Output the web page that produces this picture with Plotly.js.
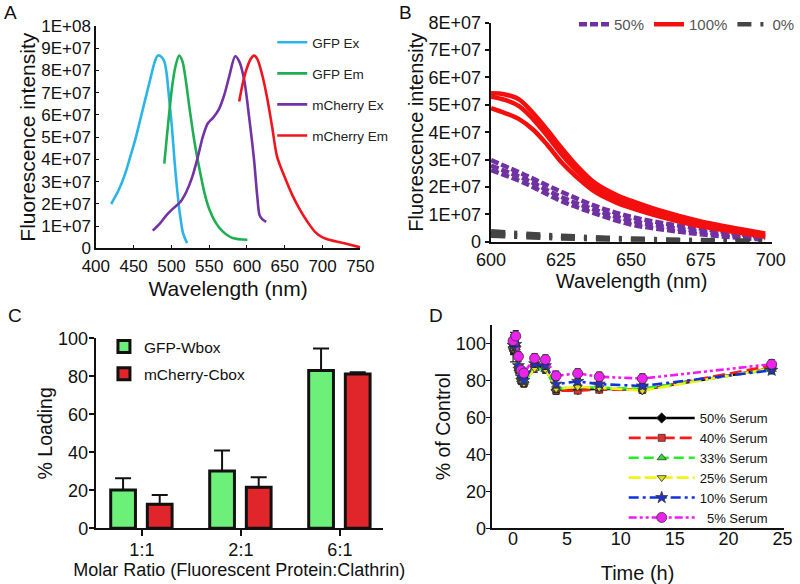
<!DOCTYPE html>
<html><head><meta charset="utf-8">
<script src="https://cdn.plot.ly/plotly-3.0.1.min.js"></script>
<style>html,body{margin:0;padding:0;background:#fff}#chart{width:800px;height:584px}</style>
</head><body><div id="chart"></div>
<script>
// ---------- Panel A : spectra ----------
const aGfpExNm  = [420.3,430.4,439.1,445.7,452.2,458.8,465.3,471.9,477.5,481.8,487,490.6,493.6,497.1,500.6,504,507.6,511.1,515.4,520.7];
const aGfpExVal = [2.0e7,2.64e7,3.39e7,4.14e7,4.89e7,5.79e7,6.69e7,7.59e7,8.34e7,8.67e7,8.61e7,8.41e7,7.89e7,6.69e7,5.49e7,3.99e7,2.64e7,1.59e7,0.69e7,0.24e7];
const aGfpEmNm  = [490.6,493.6,497.1,501,505.4,510.2,514.6,518.9,524.2,530.8,537.3,543.8,550.4,559,567.8,580.9,600.5];
const aGfpEmVal = [3.81e7,4.89e7,6.09e7,7.29e7,8.19e7,8.67e7,8.41e7,7.59e7,6.24e7,4.74e7,3.54e7,2.49e7,1.74e7,1.14e7,0.77e7,0.47e7,0.39e7];
const aMchExNm  = [475.3,484.9,493.6,502.4,512,519.8,527.7,535.1,541.6,548.2,554.7,562.6,570,576.5,584.4,589.7,596.2,602.7,609.3,613.6,616.6,620.1,625.4];
const aMchExVal = [0.8e7,1.13e7,1.5e7,1.8e7,2.1e7,2.55e7,3.23e7,4.14e7,5.03e7,5.63e7,5.86e7,6.24e7,6.91e7,7.74e7,8.64e7,8.41e7,7.59e7,5.94e7,3.99e7,2.34e7,1.5e7,1.32e7,1.2e7];
const aMchEmNm  = [589.7,594,599.2,604.9,609.3,613.6,620.1,626.7,633.2,639.8,650,660,670,680,690,700,710,730,750];
const aMchEmVal = [6.61e7,7.36e7,8.04e7,8.52e7,8.67e7,8.52e7,7.81e7,6.76e7,5.48e7,4.13e7,3.2e7,2.4e7,1.75e7,1.2e7,0.75e7,0.5e7,0.38e7,0.22e7,0.05e7];
const aNames = ['GFP Ex','GFP Em','mCherry Ex','mCherry Em'];
const aYTickVals = [0,1e7,2e7,3e7,4e7,5e7,6e7,7e7,8e7,9e7,1e8];
const aYTickText = ['0','1E+07','2E+07','3E+07','4E+07','5E+07','6E+07','7E+07','8E+07','9E+07','1E+08'];

// ---------- Panel B : quenching ----------
const bRedNm   = [600,605,610,615,620,625,630,637.5,645,650,660,675,690,698];
const bRed1    = [5.42e7,5.38e7,5.2e7,4.7e7,4.1e7,3.45e7,2.85e7,2.12e7,1.7e7,1.5e7,1.15e7,0.74e7,0.45e7,0.3e7];
const bRed2    = [5.3e7,5.18e7,4.95e7,4.48e7,3.88e7,3.22e7,2.65e7,1.96e7,1.56e7,1.37e7,1.04e7,0.65e7,0.38e7,0.24e7];
const bRed3    = [4.88e7,4.7e7,4.48e7,4.1e7,3.55e7,2.92e7,2.42e7,1.8e7,1.42e7,1.24e7,0.93e7,0.56e7,0.31e7,0.18e7];
const bPurNm   = [600,612.5,625,637.5,650,662.5,675,687.5,698];
const bPur1    = [2.98e7,2.42e7,1.83e7,1.3e7,0.91e7,0.66e7,0.48e7,0.3e7,0.15e7];
const bPur2    = [2.78e7,2.27e7,1.64e7,1.15e7,0.77e7,0.54e7,0.37e7,0.22e7,0.1e7];
const bPur3    = [2.62e7,2.12e7,1.49e7,1.02e7,0.63e7,0.43e7,0.27e7,0.15e7,0.07e7];
const bGrayNm  = [600,625,650,675,698];
const bGray1   = [0.38e7,0.22e7,0.12e7,0.06e7,0.03e7];
const bGray2   = [0.3e7,0.17e7,0.09e7,0.04e7,0.02e7];
const bGray3   = [0.22e7,0.12e7,0.06e7,0.03e7,0.01e7];
const bNames = ['50%','100%','0%'];
const bYTickVals = [0,1e7,2e7,3e7,4e7,5e7,6e7,7e7,8e7];
const bYTickText = ['0','1E+07','2E+07','3E+07','4E+07','5E+07','6E+07','7E+07','8E+07'];

// ---------- Panel C : loading ----------
const cRatios = ['1:1','2:1','6:1'];
const cGfp    = [20.2,30.2,83];
const cGfpErr = [6.1,10.7,11.7];
const cMch    = [12.6,21.6,81.2];
const cMchErr = [4.9,5.2,0.9];
const cNames = ['GFP-Wbox','mCherry-Cbox'];

// ---------- Panel D : serum stability ----------
const dTime = [0,0.25,0.5,0.75,1,2,3,4,6,8,12,24];
const d50 = [98,98.5,87,81,79,88,87,75,75,75.5,75,86.5];
const d40 = [97.5,98,86,80,78.5,88,86.5,74.5,74.5,75,75,88];
const d33 = [98,97.5,86.5,80.5,79,86.5,86,75.5,76.5,76,75.5,86];
const d25 = [97,97,86,80,78.5,86.5,86,75.5,76.5,76,74.5,86.5];
const d10 = [99,99.5,88,82,80,89,88,78,79.5,78,77,85.5];
const d5  = [101.5,104,93,85.5,84,92,91.3,82.5,83.8,82,81,88.8];
const d50Err = [8,3,2,2,2,2,2,2,1.5,1.5,1.5,2];
const d40Err = [3,3,2,2,2,2,2,2,1.5,1.5,1.5,2];
const d33Err = [3,3,2,2,2,2,2,2,1.5,1.5,1.5,2];
const d25Err = [3,3,2,2,2,2,2,2,1.5,1.5,1.5,2];
const d10Err = [3,3,2,2,2,2,2,2,1.5,1.5,1.5,2];
const d5Err  = [3,3,2.5,2,2,2.5,2.5,2.5,2.5,2.5,2.5,2.5];
const dNames = ['50% Serum','40% Serum','33% Serum','25% Serum','10% Serum','\u00a0\u00a05% Serum'];

const FONT = 'Arial, "Liberation Sans", Helvetica, sans-serif';
const traces = [];

// A
const aCols = ['#2db4e6','#1fae52','#7433a3','#f0141e'];
[[aGfpExNm,aGfpExVal],[aGfpEmNm,aGfpEmVal],[aMchExNm,aMchExVal],[aMchEmNm,aMchEmVal]].forEach((p,i)=>{
  traces.push({type:'scatter',mode:'lines',x:p[0],y:p[1],name:aNames[i],xaxis:'x',yaxis:'y',
    line:{color:aCols[i],width:2.6,shape:'spline',smoothing:0.8},legend:'legend',legendgroup:'a'+i,hoverinfo:'skip'});
});

// B
const bPurple = '#7032a3', bRed = '#f2100f', bGray = '#454545';
[bPur1,bPur2,bPur3].forEach((v,i)=>traces.push({type:'scatter',mode:'lines',x:bPurNm,y:v,name:bNames[0],xaxis:'x2',yaxis:'y2',
  line:{color:bPurple,width:4.5,dash:'8px,3px',shape:'spline'},legend:'legend2',showlegend:i===0,legendgroup:'b0'}));
[bRed1,bRed2,bRed3].forEach((v,i)=>traces.push({type:'scatter',mode:'lines',x:bRedNm,y:v,name:bNames[1],xaxis:'x2',yaxis:'y2',
  line:{color:bRed,width:4.5,shape:'spline'},legend:'legend2',showlegend:i===0,legendgroup:'b1'}));
[bGray1,bGray2,bGray3].forEach((v,i)=>traces.push({type:'scatter',mode:'lines',x:bGrayNm,y:v,name:bNames[2],xaxis:'x2',yaxis:'y2',
  line:{color:bGray,width:4.5,dash:'14px,9px,3px,9px',shape:'spline'},legend:'legend2',showlegend:i===0,legendgroup:'b2'}));

// C
traces.push({type:'bar',x:cRatios,y:cGfp,name:cNames[0],xaxis:'x3',yaxis:'y3',width:0.25,offset:-0.315,
  marker:{color:'#6cf07a',line:{color:'#111',width:3}},
  error_y:{type:'data',symmetric:false,array:cGfpErr,arrayminus:[0,0,0],color:'#111',thickness:2,width:8},legend:'legend3',legendgroup:'c0'});
traces.push({type:'bar',x:cRatios,y:cMch,name:cNames[1],xaxis:'x3',yaxis:'y3',width:0.25,offset:0.055,
  marker:{color:'#e0262b',line:{color:'#111',width:3}},
  error_y:{type:'data',symmetric:false,array:cMchErr,arrayminus:[0,0,0],color:'#111',thickness:2,width:8},legend:'legend3',legendgroup:'c1'});

// D
const dSeries = [
  [d50,d50Err,'#000000','solid','diamond',8,'#000000'],
  [d40,d40Err,'#ff1a1a','12px,5px','square',7,'#e03030'],
  [d33,d33Err,'#22ee22','10px,5px','triangle-up',8,'#33dd33'],
  [d25,d25Err,'#f2f21a','12px,4px','triangle-down',8,'#dede22'],
  [d10,d10Err,'#1030e0','10px,4px,3px,4px','star',9,'#2233cc'],
  [d5,d5Err,'#f21af2','8px,3px,3px,3px,3px,3px','circle',10,'#ee22ee']
];
dSeries.forEach((s,i)=>traces.push({type:'scatter',mode:'lines+markers',x:dTime,y:s[0],name:dNames[i],xaxis:'x4',yaxis:'y4',
  line:{color:s[2],width:2.6,dash:s[3]},marker:{symbol:s[4],size:s[5],color:s[6],line:{color:'#333',width:0.8}},
  error_y:{type:'data',array:s[1],color:'#222',thickness:1.2,width:3},legend:'legend4'}));

const axBase = {showgrid:false,zeroline:false,showline:true,linecolor:'#111',tickcolor:'#111',
  tickfont:{family:FONT,size:18,color:'#111'},title:{font:{family:FONT,size:20,color:'#111'}},fixedrange:true};
function ax(o){return Object.assign(JSON.parse(JSON.stringify(axBase)),o);}

const layout = {
  width:800,height:584,margin:{l:0,r:0,t:0,b:0},paper_bgcolor:'#ffffff',plot_bgcolor:'rgba(0,0,0,0)',
  font:{family:FONT,color:'#111',size:16},
  xaxis: ax({domain:[0.121,0.455],anchor:'y',range:[400,750],dtick:50,linewidth:1.5,ticks:'inside',ticklen:3,ticklabelstandoff:2,
    tickfont:{family:FONT,size:17,color:'#111'},title:{text:'Wavelength (nm)',font:{family:FONT,size:21,color:'#111'},standoff:6}}),
  yaxis: ax({domain:[0.5745,0.9555],anchor:'x',range:[0,1e8],tickvals:aYTickVals,ticktext:aYTickText,linewidth:1.5,ticks:'inside',ticklen:3,
    tickfont:{family:FONT,size:17,color:'#111'},title:{text:'Fluorescence intensity',font:{family:FONT,size:21,color:'#111'},standoff:0}}),
  xaxis2: ax({domain:[0.62,0.975],anchor:'y2',range:[600,700.5],tickvals:[600,625,650,675,700],linewidth:2.5,ticks:'',
    title:{text:'Wavelength (nm)',font:{family:FONT,size:20,color:'#111'},standoff:0}}),
  yaxis2: ax({domain:[0.5861,0.9611],anchor:'x2',range:[0,8e7],tickvals:bYTickVals,ticktext:bYTickText,linewidth:2.5,ticks:'outside',ticklen:4,tickwidth:2,
    title:{text:'Fluorescence intensity',font:{family:FONT,size:20,color:'#111'},standoff:0}}),
  xaxis3: ax({domain:[0.1209,0.4834],anchor:'y3',type:'category',range:[-0.466,2.434],linewidth:2,ticks:'outside',ticklen:6,tickwidth:2,ticklabelstandoff:-2,
    title:{text:'Molar Ratio (Fluorescent Protein:Clathrin)',font:{family:FONT,size:18,color:'#111'},standoff:0}}),
  yaxis3: ax({domain:[0.0954,0.4207],anchor:'x3',range:[0,100],dtick:20,linewidth:2,ticks:'outside',ticklen:5,tickwidth:2,ticklabelstandoff:-3,
    title:{text:'% Loading',font:{family:FONT,size:19.5,color:'#111'},standoff:0}}),
  xaxis4: ax({domain:[0.6206,0.9893],anchor:'y4',range:[-2,25.1],tickvals:[0,5,10,15,20,25],linewidth:2,ticks:'',ticklabelstandoff:-7,
    title:{text:'Time (h)',font:{family:FONT,size:20,color:'#111'},standoff:20}}),
  yaxis4: ax({domain:[0.0954,0.4435],anchor:'x4',range:[0,110],tickvals:[0,20,40,60,80,100],linewidth:2,ticks:'outside',ticklen:4,tickwidth:1.5,ticklabelstandoff:-4,
    title:{text:'% of Control',font:{family:FONT,size:19.5,color:'#111'},standoff:0}}),
  bargap:0,
  legend:{x:275/800,y:1-27/584,xanchor:'left',yanchor:'top',bgcolor:'rgba(0,0,0,0)',font:{family:FONT,size:13.5,color:'#222'},tracegroupgap:10.5,itemwidth:30},
  legend2:{x:580/800,y:1-8/584,xanchor:'left',yanchor:'top',orientation:'h',bgcolor:'rgba(0,0,0,0)',font:{family:FONT,size:15,color:'#555'},itemwidth:30},
  legend3:{x:105/800,y:1-330/584,xanchor:'left',yanchor:'top',bgcolor:'rgba(0,0,0,0)',font:{family:FONT,size:15.5,color:'#111'},tracegroupgap:4},
  legend4:{x:630/800,y:1-403/584,xanchor:'left',yanchor:'top',bgcolor:'rgba(0,0,0,0)',font:{family:FONT,size:13,color:'#111'},itemwidth:66,tracegroupgap:0},
  annotations:[
    {text:'A',x:2/800,y:1,xref:'paper',yref:'paper',xanchor:'left',yanchor:'top',showarrow:false,font:{family:FONT,size:19,color:'#111'}},
    {text:'B',x:401/800,y:1,xref:'paper',yref:'paper',xanchor:'left',yanchor:'top',showarrow:false,font:{family:FONT,size:19,color:'#111'}},
    {text:'C',x:6/800,y:1-303/584,xref:'paper',yref:'paper',xanchor:'left',yanchor:'top',showarrow:false,font:{family:FONT,size:19,color:'#111'}},
    {text:'D',x:431/800,y:1-303/584,xref:'paper',yref:'paper',xanchor:'left',yanchor:'top',showarrow:false,font:{family:FONT,size:19,color:'#111'}}
  ]
};
Plotly.newPlot('chart',traces,layout,{staticPlot:true,displayModeBar:false});
</script></body></html>
